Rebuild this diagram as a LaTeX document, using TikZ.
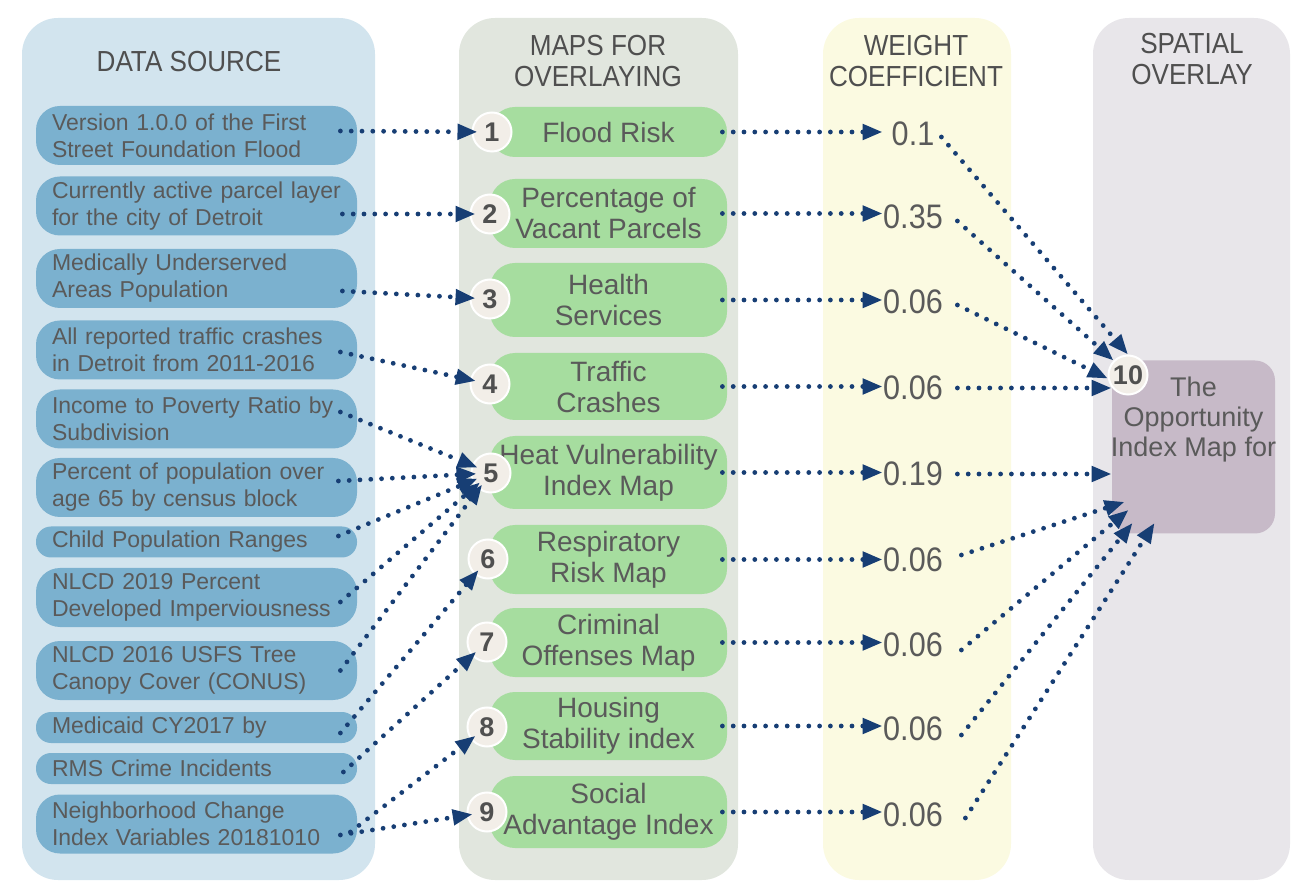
\documentclass[tikz,border=0pt]{standalone}
\usepackage{fontspec}
\setmainfont{Liberation Sans}
\newfontfamily\narrowfont{Liberation Sans}[FakeStretch=0.9]
\usetikzlibrary{arrows.meta}

\definecolor{srcbg}{HTML}{D2E4EE}
\definecolor{srcbox}{HTML}{7BB1CF}
\definecolor{mapbg}{HTML}{E1E6DE}
\definecolor{mapbox}{HTML}{A6DD9F}
\definecolor{wbg}{HTML}{FBFAE1}
\definecolor{spbg}{HTML}{E8E6EA}
\definecolor{tgtbox}{HTML}{C7BAC8}
\definecolor{numfill}{HTML}{F2EEE8}
\definecolor{arrowblue}{HTML}{173E74}
\definecolor{txtgray}{HTML}{5A5A5A}
\definecolor{numgray}{HTML}{505050}
\definecolor{headgray}{HTML}{4F4F4F}

\begin{document}
\begin{tikzpicture}[x=0.5pt,y=-0.5pt,
    flow/.style={draw=arrowblue, line width=2.4pt, line cap=round, dash pattern=on 0pt off 5.4pt,
        -{Triangle[length=10pt,width=7.5pt]}},
    tonum/.style={flow, shorten >=-3pt},
    src/.style={fill=srcbox, rounded corners=12pt, minimum width=160.5pt, minimum height=29.5pt,
        text width=144.5pt, inner xsep=8pt, inner ysep=0pt, align=left, text=txtgray,
        font=\fontsize{11.5}{13.5}\selectfont},
    srcsmall/.style={src, rounded corners=7.5pt, minimum height=15.5pt},
    map/.style={fill=mapbox, rounded corners=12.5pt, minimum width=118.5pt, inner xsep=2pt,
        inner ysep=0pt, align=center, text=txtgray, font=\fontsize{14}{15.5}\selectfont},
    num/.style={circle, fill=numfill, draw=white, line width=1pt, minimum size=19.5pt,
        inner sep=0pt, text=numgray, font=\bfseries\fontsize{13.5}{13.5}\selectfont},
    weight/.style={minimum width=30pt, inner sep=0pt, text=txtgray,
        font=\narrowfont\fontsize{17}{17}\selectfont},
    head/.style={align=center, text=headgray, font=\narrowfont\fontsize{14.5}{15.5}\selectfont}
]
    \useasboundingbox (0,0) rectangle (1291,887);

    % The four columns
    \fill[srcbg, rounded corners=18pt] (22,18) rectangle (375,880);
    \fill[mapbg, rounded corners=18pt] (459,18) rectangle (738,880);
    \fill[wbg, rounded corners=18pt] (823,18) rectangle (1011,880);
    \fill[spbg, rounded corners=18pt] (1093,18) rectangle (1290,880);

    \node[head] (hsrc) at (189,62) {DATA SOURCE};
    \node[head] (hmap) at (598,61.5) {MAPS FOR\\OVERLAYING};
    \node[head] (hw) at (916,61.5) {WEIGHT\\COEFFICIENT};
    \node[head] (hsp) at (1192,59.5) {SPATIAL\\OVERLAY};

    % Place the data sources
    \node[src] (s1) at (196.5,135.5) {Version 1.0.0 of the First\\Street Foundation Flood};
    \node[src] (s2) at (196.5,206) {Currently active parcel layer\\for the city of Detroit};
    \node[src] (s3) at (196.5,278.5) {Medically Underserved\\Areas Population};
    \node[src] (s4) at (196.5,350) {All reported traffic crashes\\in Detroit from 2011-2016};
    \node[src] (s5) at (196.5,419) {Income to Poverty Ratio by\\Subdivision};
    \node[src] (s6) at (196.5,487.5) {Percent of population over\\age 65 by census block};
    \node[srcsmall] (s7) at (196.5,542) {Child Population Ranges};
    \node[src] (s8) at (196.5,597.5) {NLCD 2019 Percent\\Developed Imperviousness};
    \node[src] (s9) at (196.5,670.5) {NLCD 2016 USFS Tree\\Canopy Cover (CONUS)};
    \node[srcsmall] (s10) at (196.5,727.5) {Medicaid CY2017 by};
    \node[srcsmall] (s11) at (196.5,768.5) {RMS Crime Incidents};
    \node[src] (s12) at (196.5,824) {Neighborhood Change\\Index Variables 20181010};

    % Place the maps
    \node[map, minimum height=25pt] (m1) at (608.5,132) {Flood Risk};
    \node[map, minimum height=34.5pt] (m2) at (608.5,213.5) {Percentage of\\Vacant Parcels};
    \node[map, minimum height=37pt] (m3) at (608.5,300) {Health\\Services};
    \node[map, minimum height=33.5pt] (m4) at (608.5,386.5) {Traffic\\Crashes};
    \node[map, minimum height=36.5pt] (m5) at (608.5,472.5) {Heat Vulnerability\\Index Map};
    \node[map, minimum height=34.5pt] (m6) at (608.5,559.5) {Respiratory\\Risk Map};
    \node[map, minimum height=34.5pt] (m7) at (608.5,642.5) {Criminal\\Offenses Map};
    \node[map, minimum height=34pt] (m8) at (608.5,726) {Housing\\Stability index};
    \node[map, minimum height=36pt] (m9) at (608.5,812) {Social\\Advantage Index};

    \node[num] (c1) at (492,132) {1};
    \node[num] (c2) at (490,214) {2};
    \node[num] (c3) at (490,299) {3};
    \node[num] (c4) at (490,384) {4};
    \node[num] (c5) at (491,473) {5};
    \node[num] (c6) at (488,559) {6};
    \node[num] (c7) at (487,642) {7};
    \node[num] (c8) at (487,727) {8};
    \node[num] (c9) at (487,812) {9};

    % Place the weights
    \node[weight] (w1) at (913,134) {0.1};
    \node[weight] (w2) at (913,217) {0.35};
    \node[weight] (w3) at (913,302) {0.06};
    \node[weight] (w4) at (913,388) {0.06};
    \node[weight] (w5) at (913,474) {0.19};
    \node[weight] (w6) at (913,560) {0.06};
    \node[weight] (w7) at (913,645) {0.06};
    \node[weight] (w8) at (913,729) {0.06};
    \node[weight] (w9) at (913,815) {0.06};

    % The overlay
    \node[fill=tgtbox, rounded corners=10pt, minimum width=81.5pt, minimum height=86.5pt] (tgt) at (1193.5,447) {};
    \node[align=center, text=txtgray, font=\fontsize{13.5}{15}\selectfont, anchor=north, inner sep=0pt]
        (tgtlbl) at ([yshift=-8pt]tgt.north) {The\\Opportunity\\Index Map for};
    \node[num] (c10) at (1128,375) {10};

    % The lines!
    \draw[tonum] ([xshift=-8.5pt,yshift=2.25pt]s1.east) -- (c1);
    \draw[tonum] ([xshift=-7.5pt,yshift=-4pt]s2.east) -- (c2);
    \draw[tonum] ([xshift=-7.5pt,yshift=-6.25pt]s3.east) -- (c3);
    \draw[tonum] ([xshift=-8.5pt,yshift=-1pt]s4.east) -- (c4);
    \draw[tonum] ([xshift=-8.5pt,yshift=3.5pt]s5.east) -- (c5);
    \draw[tonum] ([xshift=-9.5pt,yshift=3.25pt]s6.east) -- (c5);
    \draw[tonum] ([xshift=-9.5pt,yshift=3pt]s7.east) -- (c5);
    \draw[tonum] ([xshift=-8.5pt,yshift=-2.25pt]s8.east) -- (c5);
    \draw[tonum] ([xshift=-8.5pt]s9.east) -- (c5);
    \draw[tonum] ([xshift=-8.5pt,yshift=-2.75pt]s10.east) -- (c6);
    \draw[tonum] ([xshift=-7pt,yshift=-1.75pt]s11.east) -- (c7);
    \draw[tonum] ([xshift=-3.5pt,yshift=-4pt]s12.east) -- (c8);
    \draw[tonum] ([xshift=-8.5pt,yshift=-5.5pt]s12.east) -- (c9);

    \draw[flow] ([xshift=-2.5pt]m1.east) -- (m1.east -| w1.west);
    \draw[flow] ([xshift=-2.5pt]m2.east) -- (m2.east -| w2.west);
    \draw[flow] ([xshift=-2.5pt]m3.east) -- (m3.east -| w3.west);
    \draw[flow] ([xshift=-2.5pt]m4.east) -- (m4.east -| w4.west);
    \draw[flow] ([xshift=-2.5pt]m5.east) -- (m5.east -| w5.west);
    \draw[flow] ([xshift=-2.5pt]m6.east) -- (m6.east -| w6.west);
    \draw[flow] ([xshift=-2.5pt]m7.east) -- (m7.east -| w7.west);
    \draw[flow] ([xshift=-2.5pt]m8.east) -- (m8.east -| w8.west);
    \draw[flow] ([xshift=-2.5pt]m9.east) -- (m9.east -| w9.west);

    \draw[flow] ([xshift=-1pt,yshift=-1.5pt]w1.east) -- (c10.north);
    \draw[flow] ([xshift=7pt,yshift=-2pt]w2.east) -- (c10.135);
    \draw[flow] ([xshift=7pt,yshift=-1.5pt]w3.east) -- (c10.190);
    \draw[flow] ([xshift=7pt]w4.east) -- (w4.east -| tgt.west);
    \draw[flow] ([xshift=7pt]w5.east) -- (w5.east -| tgt.west);
    \draw[flow] ([xshift=9pt,yshift=2.5pt]w6.east) -- ([shift={(13,-32)}]tgt.south west);
    \draw[flow] ([xshift=9pt,yshift=-2.5pt]w7.east) -- ([shift={(17,-24)}]tgt.south west);
    \draw[flow] ([xshift=9pt,yshift=-3pt]w8.east) -- ([shift={(21,-11)}]tgt.south west);
    \draw[flow] ([xshift=11pt,yshift=-1.5pt]w9.east) -- ([shift={(43,-11)}]tgt.south west);
\end{tikzpicture}
\end{document}
